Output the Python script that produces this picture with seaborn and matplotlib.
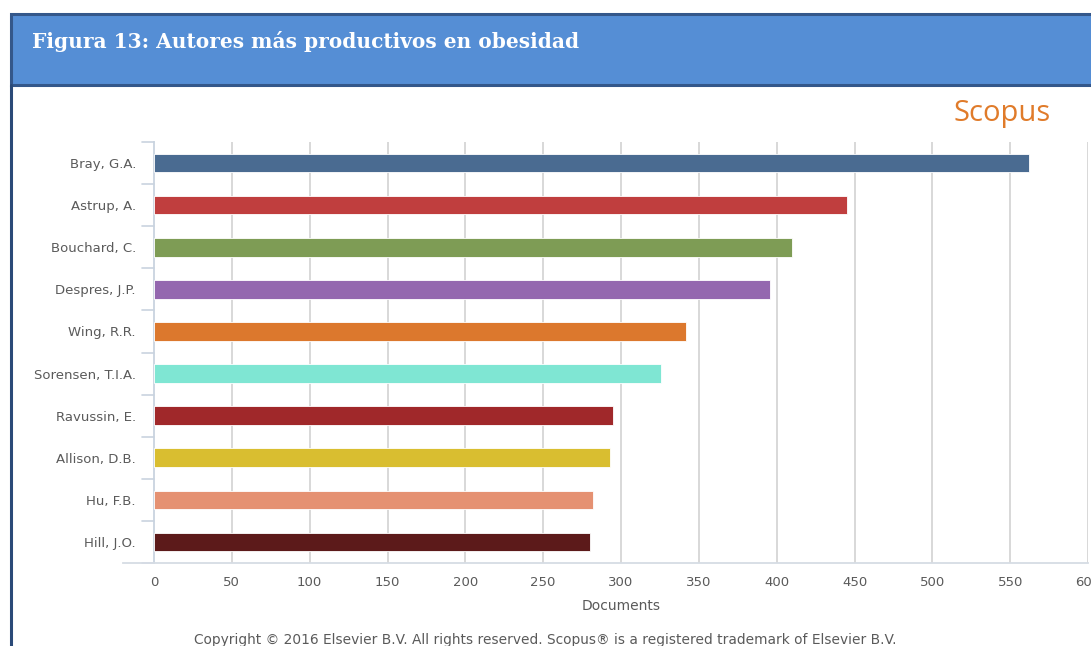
import matplotlib
matplotlib.use("Agg")
import matplotlib.pyplot as plt
import matplotlib.patches as mpatches
import seaborn as sns
import pandas as pd

authors = ["Bray, G.A.", "Astrup, A.", "Bouchard, C.", "Despres, J.P.", "Wing, R.R.",
           "Sorensen, T.I.A.", "Ravussin, E.", "Allison, D.B.", "Hu, F.B.", "Hill, J.O."]
documents = [562, 445, 410, 396, 342, 326, 295, 293, 282, 280]
bar_colors = ["#4A6B91", "#C03E3E", "#7E9C55", "#9467AF", "#DC782D",
              "#7FE6D3", "#A0282A", "#D9BE30", "#E59172", "#5C1A1A"]
x_ticks = [0, 50, 100, 150, 200, 250, 300, 350, 400, 450, 500, 550, 600]

df = pd.DataFrame({"Autor": authors, "Documents": documents})

sns.set_theme(style="white")
plt.rcParams["font.family"] = ["DejaVu Sans"]

fig = plt.figure(figsize=(10.91, 6.46), dpi=100)
fig.patch.set_facecolor("white")

# title banner
banner = mpatches.Rectangle((11 / 1091, 1 - 85 / 646), 1.0, 71 / 646,
                            transform=fig.transFigure, facecolor="#558ED5",
                            edgecolor="#34578A", linewidth=2.2, zorder=0)
fig.patches.append(banner)
fig.add_artist(plt.Line2D([11 / 1091, 11 / 1091], [0, 1 - 85 / 646],
                          transform=fig.transFigure, color="#2B4A78", linewidth=2.2))
fig.text(32 / 1091, 1 - 41 / 646, "Figura 13: Autores más productivos en obesidad",
         fontsize=14.5, fontweight="bold", color="white", family="DejaVu Serif",
         va="center", ha="left")

ax = fig.add_axes([154 / 1091, 83 / 646, 934 / 1091, 421 / 646])
sns.barplot(data=df, y="Autor", x="Documents", hue="Autor", palette=bar_colors,
            legend=False, orient="h", width=0.44, saturation=1, ax=ax,
            edgecolor="white", linewidth=0.6, zorder=3)

ax.set_xlim(0, 600)
ax.set_ylim(9.5, -0.5)
ax.set_xticks(x_ticks)
ax.set_xticklabels([str(t) for t in x_ticks], color="#5A5A5A", fontsize=9.5)
ax.set_yticks([i for i in range(len(authors))])
ax.set_yticklabels(authors, color="#5A5A5A", fontsize=9.5)
ax.tick_params(axis="y", length=0, pad=13)
ax.tick_params(axis="x", length=0, pad=9)

for t in x_ticks[1:]:
    ax.axvline(t, color="#D6D6D6", linewidth=1.3, zorder=1)
# category separators on the value axis
for b in range(len(authors) + 1):
    ax.plot([-0.013, 0], [b - 0.5, b - 0.5], transform=ax.get_yaxis_transform(),
            color="#C9D3DF", linewidth=1.2, clip_on=False)

for s in ["top", "right"]:
    ax.spines[s].set_visible(False)
ax.spines["left"].set_color("#C9D3DF")
ax.spines["left"].set_linewidth(1.3)
ax.spines["bottom"].set_color("#D6DCE4")
ax.spines["bottom"].set_linewidth(1.3)
ax.spines["bottom"].set_bounds(-20, 600)

ax.set_ylabel("")
ax.set_xlabel("Documents", color="#5A5A5A", fontsize=10)
ax.xaxis.set_label_coords(0.5, -0.086)

fig.text(1002 / 1091, 1 - 114 / 646, "Scopus", color="#E07B2A", fontsize=21,
         ha="center", va="center", family="Open Sans")
fig.text(545 / 1091, 1 - 640 / 646,
         "Copyright © 2016 Elsevier B.V. All rights reserved. Scopus® is a registered trademark of Elsevier B.V.",
         color="#5A5A5A", fontsize=9.9, ha="center", va="center")

fig.savefig("out.png", dpi=100, facecolor="white")
